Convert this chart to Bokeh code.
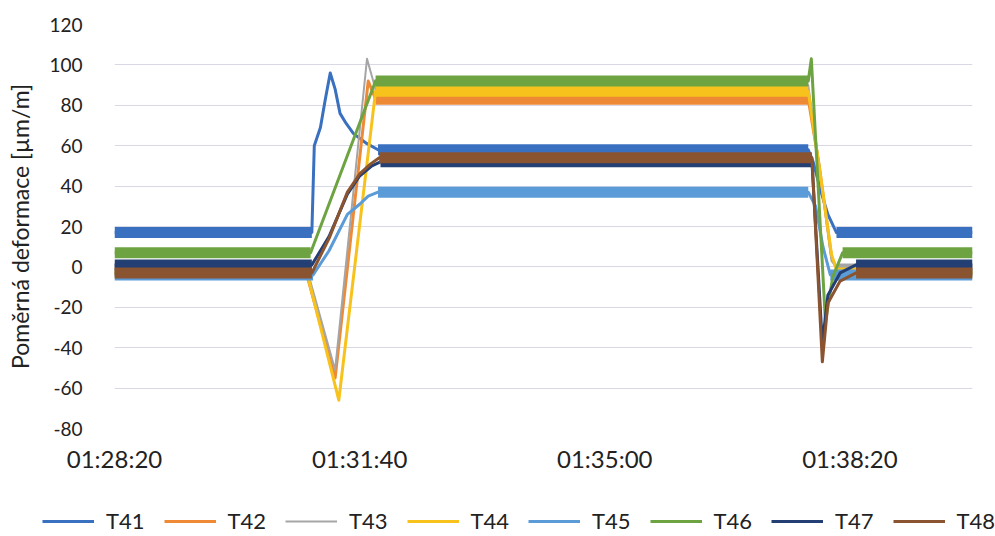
from bokeh.plotting import figure
from bokeh.models import Range1d, FixedTicker, Legend, LegendItem
from bokeh.layouts import column, row
from bokeh.embed import file_html
from bokeh.resources import INLINE

# ---- data (seconds after 01:28:20, strain in µm/m) ----
x_tick_pos = [0, 200, 400, 600]
x_tick_labels = ["01:28:20", "01:31:40", "01:35:00", "01:38:20"]
y_ticks = [-80, -60, -40, -20, 0, 20, 40, 60, 80, 100, 120]
y_tick_labels = ["-80", "-60", "-40", "-20", "0", "20", "40", "60", "80", "100", "120"]

names = ["T41", "T42", "T43", "T44", "T45", "T46", "T47", "T48"]

t41_t = [0, 161, 163, 168, 172, 176, 180, 184, 189, 195, 206, 215, 566, 570, 576, 582, 589, 700]
t41_v = [17, 17, 60, 69, 83, 96, 88, 76, 71, 66, 61, 58, 58, 52, 38, 26, 17, 17]

t42_t = [0, 156, 180, 207, 213, 566, 575, 585, 590, 700]
t42_v = [-2, -2, -55, 92, 83, 83, 50, 5, -2, -2]

t43_t = [0, 157, 180, 206, 212, 566, 575, 585, 590, 700]
t43_v = [-1, -1, -51, 103, 90, 90, 50, 3, -1, -1]

t44_t = [0, 157, 183, 213, 566, 576, 585, 590, 700]
t44_v = [-3, -3, -66, 87, 87, 45, 6, -3, -3]

t45_t = [0, 162, 175, 190, 200, 207, 215, 566, 572, 578, 584, 700]
t45_v = [-4, -4, 8, 26, 31, 35, 37, 37, 30, 10, -4, -4]

t46_t = [0, 160, 213, 566, 568.5, 580, 586, 594, 700]
t46_v = [7, 7, 92, 92, 103, -27, -5, 7, 7]

t47_t = [0, 161, 175, 190, 200, 210, 217, 569, 577.5, 582, 592, 605, 700]
t47_v = [1, 1, 15, 36, 45, 50, 52, 52, -38, -14, -3, 1, 1]

t48_t = [0, 161, 175, 190, 200, 209, 216, 569, 577.5, 582, 592, 605, 700]
t48_v = [-3, -3, 14, 37, 46, 51, 54, 54, -47, -18, -7, -3, -3]

series_t = [t41_t, t42_t, t43_t, t44_t, t45_t, t46_t, t47_t, t48_t]
series_v = [t41_v, t42_v, t43_v, t44_v, t45_v, t46_v, t47_v, t48_v]

colors = ["#3a70c0", "#ee8a35", "#a5a5a5", "#f7c21c",
          "#5a9bd8", "#6ea341", "#233f73", "#8b5430"]
thin_w = [3, 3, 2, 3, 3, 3, 3, 3]

FONT = "Lato"
TXT = "#222222"

p = figure(width=995, height=500, output_backend="svg", toolbar_location=None,
           x_range=Range1d(0, 700), y_range=Range1d(-80, 120),
           min_border_left=114, min_border_right=23,
           min_border_top=24, min_border_bottom=72)

p.outline_line_color = None
p.xgrid.visible = False
p.ygrid.grid_line_color = "#d9d9e6"
p.ygrid.grid_line_width = 1

p.xaxis.ticker = FixedTicker(ticks=x_tick_pos)
p.xaxis.major_label_overrides = {pos: lab for pos, lab in zip(x_tick_pos, x_tick_labels)}
p.yaxis.ticker = FixedTicker(ticks=y_ticks)
p.yaxis.major_label_overrides = {pos: lab for pos, lab in zip(y_ticks, y_tick_labels)}

for ax in (p.xaxis[0], p.yaxis[0]):
    ax.axis_line_color = None
    ax.major_tick_line_color = None
    ax.minor_tick_line_color = None
    ax.major_tick_out = 0
    ax.major_tick_in = 0
    ax.minor_tick_out = 0
    ax.major_label_text_font = FONT
    ax.major_label_text_color = TXT

p.xaxis.major_label_text_font_size = "24px"
p.xaxis.major_label_standoff = 15
p.yaxis.major_label_text_font_size = "19px"
p.yaxis.major_label_standoff = 32
p.yaxis.axis_label = "Poměrná deformace [µm/m]"
p.yaxis.axis_label_text_font = FONT
p.yaxis.axis_label_text_font_size = "23px"
p.yaxis.axis_label_text_font_style = "normal"
p.yaxis.axis_label_text_color = TXT
p.yaxis.axis_label_standoff = 12

for ts, vs, c, w in zip(series_t, series_v, colors, thin_w):
    xs = [[ts[i], ts[i + 1]] for i in range(len(ts) - 1) if vs[i] == vs[i + 1]]
    ys = [[vs[i], vs[i + 1]] for i in range(len(ts) - 1) if vs[i] == vs[i + 1]]
    p.multi_line(xs, ys, line_width=11, line_color=c, line_cap="butt")
    p.line(ts, vs, line_width=w, line_color=c, line_join="round")

# ---- legend strip (separate figure under the chart; its view range shows none of the data) ----
q = figure(width=995, height=36, output_backend="svg", toolbar_location=None,
           x_range=Range1d(-2, -1), y_range=Range1d(-2, -1),
           x_axis_type=None, y_axis_type=None,
           min_border_left=0, min_border_right=0, min_border_top=0, min_border_bottom=0)
q.outline_line_color = None
q.xgrid.visible = False
q.ygrid.visible = False

items = []
for name, ts, vs, c, w in zip(names, series_t, series_v, colors, thin_w):
    r = q.line(ts, vs, line_width=w, line_color=c)
    items.append(LegendItem(label=name, renderers=[r]))

legend = Legend(items=items, orientation="horizontal", location=(42, 2),
                glyph_width=52, glyph_height=20, label_standoff=12, spacing=19,
                padding=0, margin=0, border_line_color=None,
                background_fill_alpha=0,
                label_text_font=FONT, label_text_font_size="22px",
                label_text_color=TXT)
q.add_layout(legend)

layout = column(p, row(q), spacing=0)
open("out.html", "w").write(file_html(layout, INLINE))
